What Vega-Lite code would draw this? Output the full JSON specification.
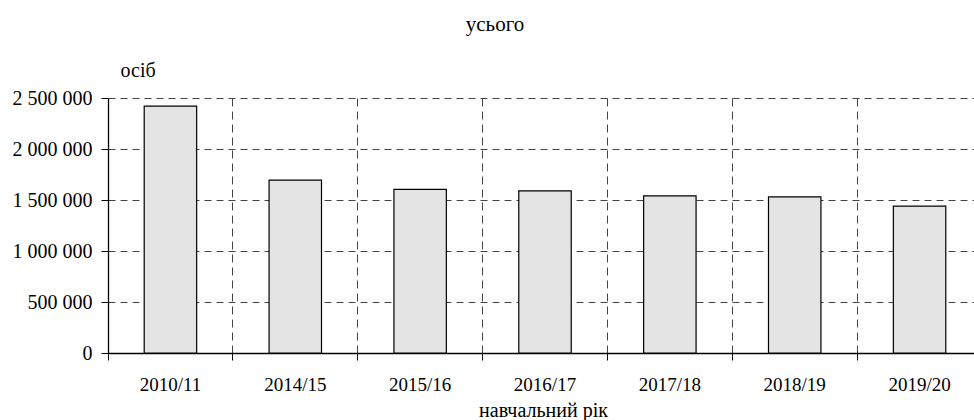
{
  "$schema": "https://vega.github.io/schema/vega-lite/v6.json",
  "autosize": "none",
  "width": 874,
  "height": 255,
  "padding": {"left": 108, "top": 98, "right": 0, "bottom": 67},
  "background": "white",
  "title": {
    "text": "усього",
    "font": "Liberation Serif",
    "fontSize": 21,
    "fontWeight": "normal",
    "color": "black",
    "anchor": "middle",
    "baseline": "alphabetic",
    "dx": -50,
    "offset": 8
  },
  "data": {
    "values": [
      {"year": "2010/11", "value": 2420000},
      {"year": "2014/15", "value": 1695000},
      {"year": "2015/16", "value": 1605000},
      {"year": "2016/17", "value": 1590000},
      {"year": "2017/18", "value": 1540000},
      {"year": "2018/19", "value": 1530000},
      {"year": "2019/20", "value": 1440000}
    ]
  },
  "mark": {"type": "bar", "width": {"band": 0.42}, "fill": "#e4e4e4", "stroke": "black", "strokeWidth": 1.2},
  "encoding": {
    "x": {
      "field": "year",
      "type": "nominal",
      "sort": null,
      "scale": {"paddingInner": 0, "paddingOuter": 0},
      "axis": {
        "bandPosition": 0,
        "labelAngle": 0,
        "labelFont": "Liberation Serif",
        "labelFontSize": 19,
        "labelColor": "black",
        "labelPadding": 15,
        "tickSize": 7,
        "tickColor": "black",
        "domainColor": "black",
        "domainWidth": 1.3,
        "grid": true,
        "gridColor": "#444",
        "gridDash": [8, 5],
        "gridWidth": 1,
        "title": "навчальний рік",
        "titleFont": "Liberation Serif",
        "titleFontSize": 20,
        "titleFontWeight": "normal",
        "titleColor": "black",
        "titleX": 435,
        "titleY": 63,
        "titleAlign": "center",
        "titleBaseline": "alphabetic"
      }
    },
    "y": {
      "field": "value",
      "type": "quantitative",
      "scale": {"domain": [0, 2500000], "nice": false},
      "axis": {
        "values": [0, 500000, 1000000, 1500000, 2000000, 2500000],
        "labelExpr": "replace(format(datum.value, ','), regexp(',', 'g'), ' ')",
        "labelFont": "Liberation Serif",
        "labelFontSize": 20,
        "labelColor": "black",
        "labelPadding": 9,
        "tickSize": 7,
        "tickColor": "black",
        "domainColor": "black",
        "domainWidth": 1.3,
        "grid": true,
        "gridColor": "#444",
        "gridDash": [7, 5],
        "gridWidth": 1,
        "title": "осіб",
        "titleFont": "Liberation Serif",
        "titleFontSize": 20,
        "titleFontWeight": "normal",
        "titleColor": "black",
        "titleAngle": 0,
        "titleX": 12,
        "titleY": -22,
        "titleAlign": "left",
        "titleBaseline": "alphabetic"
      }
    }
  },
  "config": {"view": {"stroke": null}}
}
